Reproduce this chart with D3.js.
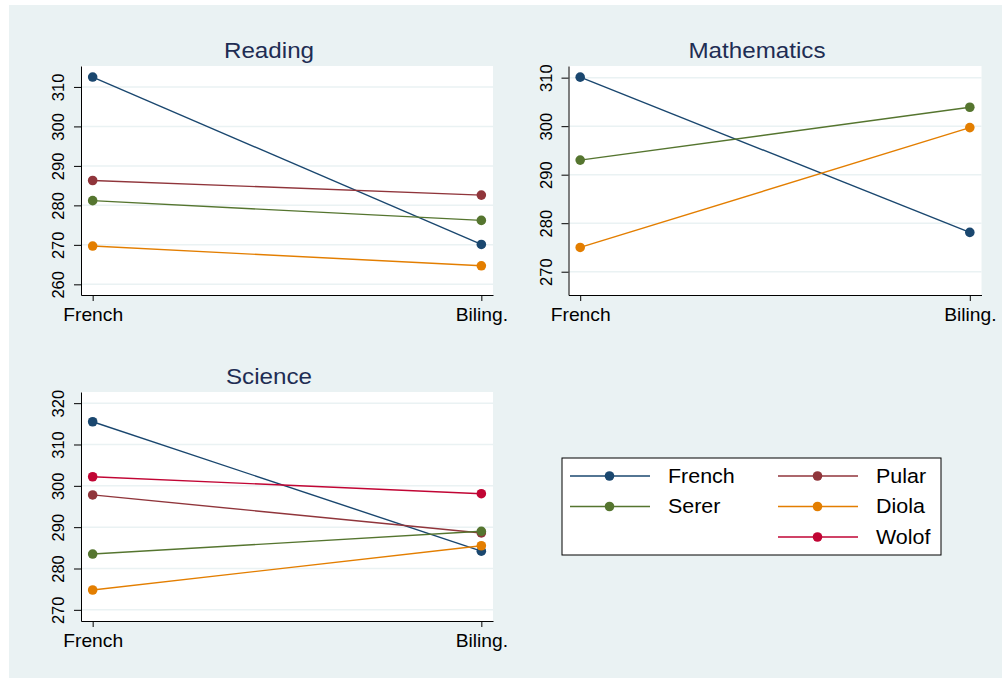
<!DOCTYPE html>
<html>
<head>
<meta charset="utf-8">
<script src="https://cdn.jsdelivr.net/npm/d3@7"></script>
<style>
  body { margin: 0; background: #fff; }
  svg { display: block; font-family: "Liberation Sans", Arial, sans-serif; }
</style>
</head>
<body>
<svg id="chart" width="1002" height="678"></svg>
<script>
// school types on the x axis
const schoolTypes = ['French', 'Biling.'];

// language groups + colours (Stata s2color)
const languages = ['French', 'Serer', 'Pular', 'Diola', 'Wolof'];
const langColors = ['#1a476f', '#55752f', '#90353b', '#e37e00', '#c10534'];

// Reading
const readingLangs = ['French', 'Pular', 'Serer', 'Diola'];
const readingFrenchSchool = [312.5, 286.3, 281.2, 269.7];
const readingBilingSchool = [270.1, 282.6, 276.2, 264.7];
const readingTicks = [260, 270, 280, 290, 300, 310];

// Mathematics
const mathLangs = ['French', 'Serer', 'Diola'];
const mathFrenchSchool = [310.1, 293.0, 275.0];
const mathBilingSchool = [278.1, 303.9, 299.7];
const mathTicks = [270, 280, 290, 300, 310];

// Science
const scienceLangs = ['French', 'Wolof', 'Pular', 'Serer', 'Diola'];
const scienceFrenchSchool = [315.5, 302.2, 297.8, 283.5, 274.8];
const scienceBilingSchool = [284.2, 298.1, 288.6, 289.0, 285.5];
const scienceTicks = [270, 280, 290, 300, 310, 320];

// legend layout (Stata cols(2), row-major with a blank slot)
const legendCol1 = ['French', 'Serer'];
const legendCol2 = ['Pular', 'Diola', 'Wolof'];

const color = d3.scaleOrdinal().domain(languages).range(langColors);

// the exported graph is slightly stretched horizontally
const STRETCH = 'scale(1.1,1)';

const svg = d3.select('#chart');

// graph region background
svg.append('rect')
  .attr('x', 9).attr('y', 5)
  .attr('width', 993).attr('height', 673)
  .attr('fill', '#eaf2f3');

function drawPanel(opts) {
  const { title, left, top, width, height, domain, ticks, langs, v0, v1 } = opts;
  const g = svg.append('g').attr('transform', `translate(${left},${top})`);

  const x = d3.scalePoint().domain(schoolTypes).range([0, width]).padding(0.03);
  const y = d3.scaleLinear().domain(domain).range([height, 0]);

  // plot region
  g.append('rect')
    .attr('width', width).attr('height', height)
    .attr('fill', '#fff');

  // grid
  g.append('g').selectAll('line')
    .data(ticks)
    .enter().append('line')
    .attr('x1', 0).attr('x2', width)
    .attr('y1', d => y(d)).attr('y2', d => y(d))
    .attr('stroke', '#eaf2f3')
    .attr('stroke-width', 1.5);

  // y axis
  const yAxis = g.append('g')
    .call(d3.axisLeft(y).tickValues(ticks).tickSize(7).tickPadding(8).tickSizeOuter(0));
  yAxis.select('.domain').attr('stroke', '#000');
  yAxis.selectAll('.tick line').attr('stroke', '#000');
  yAxis.selectAll('.tick text')
    .attr('font-size', 16.5)
    .attr('font-family', '"Liberation Sans", Arial, sans-serif')
    .attr('fill', '#000')
    .attr('text-anchor', 'middle')
    .attr('x', null).attr('dy', null)
    .attr('transform', 'translate(-17,0) rotate(-90)');

  // x axis
  const xAxis = g.append('g')
    .attr('transform', `translate(0,${height})`)
    .call(d3.axisBottom(x).tickSize(6).tickPadding(8).tickSizeOuter(0));
  xAxis.select('.domain').attr('stroke', '#000');
  xAxis.selectAll('.tick line').attr('stroke', '#000');
  xAxis.selectAll('.tick text')
    .attr('font-size', 17.5)
    .attr('font-family', '"Liberation Sans", Arial, sans-serif')
    .attr('fill', '#000')
    .attr('transform', STRETCH);

  // title, centred over the whole subgraph (incl. y labels)
  g.append('text')
    .attr('transform', `translate(${width / 2 - 18},-8) ${STRETCH}`)
    .attr('text-anchor', 'middle')
    .attr('font-size', 22)
    .attr('fill', '#1e2d53')
    .text(title);

  const series = langs.map((l, i) => ({ lang: l, values: [v0[i], v1[i]] }));

  const line = d3.line()
    .x((d, i) => x(schoolTypes[i]))
    .y(d => y(d));

  g.append('g').selectAll('path')
    .data(series)
    .enter().append('path')
    .attr('d', d => line(d.values))
    .attr('fill', 'none')
    .attr('stroke', d => color(d.lang))
    .attr('stroke-width', 1.4);

  series.forEach(s => {
    g.append('g').selectAll('circle')
      .data(s.values)
      .enter().append('circle')
      .attr('cx', (d, i) => x(schoolTypes[i]))
      .attr('cy', d => y(d))
      .attr('r', 4.8)
      .attr('fill', color(s.lang));
  });
}

drawPanel({
  title: 'Reading', left: 81, top: 66, width: 412, height: 229,
  domain: [257.3, 315.3], ticks: readingTicks,
  langs: readingLangs, v0: readingFrenchSchool, v1: readingBilingSchool
});

drawPanel({
  title: 'Mathematics', left: 568.5, top: 66, width: 413, height: 229,
  domain: [265.2, 312.4], ticks: mathTicks,
  langs: mathLangs, v0: mathFrenchSchool, v1: mathBilingSchool
});

drawPanel({
  title: 'Science', left: 81, top: 392, width: 412, height: 229,
  domain: [267.3, 322.7], ticks: scienceTicks,
  langs: scienceLangs, v0: scienceFrenchSchool, v1: scienceBilingSchool
});

// legend
const legend = svg.append('g').attr('transform', 'translate(562,458)');
legend.append('rect')
  .attr('width', 379).attr('height', 97)
  .attr('fill', '#fff')
  .attr('stroke', '#000')
  .attr('stroke-width', 1);

function legendColumn(items, keyX, textX) {
  const rowY = d3.scalePoint().domain([0, 1, 2]).range([18, 79]);
  const gcol = legend.append('g');
  items.forEach((name, i) => {
    const yy = rowY(i);
    gcol.append('line')
      .attr('x1', keyX).attr('x2', keyX + 80)
      .attr('y1', yy).attr('y2', yy)
      .attr('stroke', color(name))
      .attr('stroke-width', 1.4);
    gcol.append('circle')
      .attr('cx', keyX + 39.5).attr('cy', yy).attr('r', 4.8)
      .attr('fill', color(name));
    gcol.append('text')
      .attr('transform', `translate(${textX},${yy}) ${STRETCH}`)
      .attr('dy', '0.35em')
      .attr('font-size', 19.5)
      .attr('fill', '#000')
      .text(name);
  });
}

legendColumn(legendCol1, 8, 106);
legendColumn(legendCol2, 216, 314);
</script>
</body>
</html>
